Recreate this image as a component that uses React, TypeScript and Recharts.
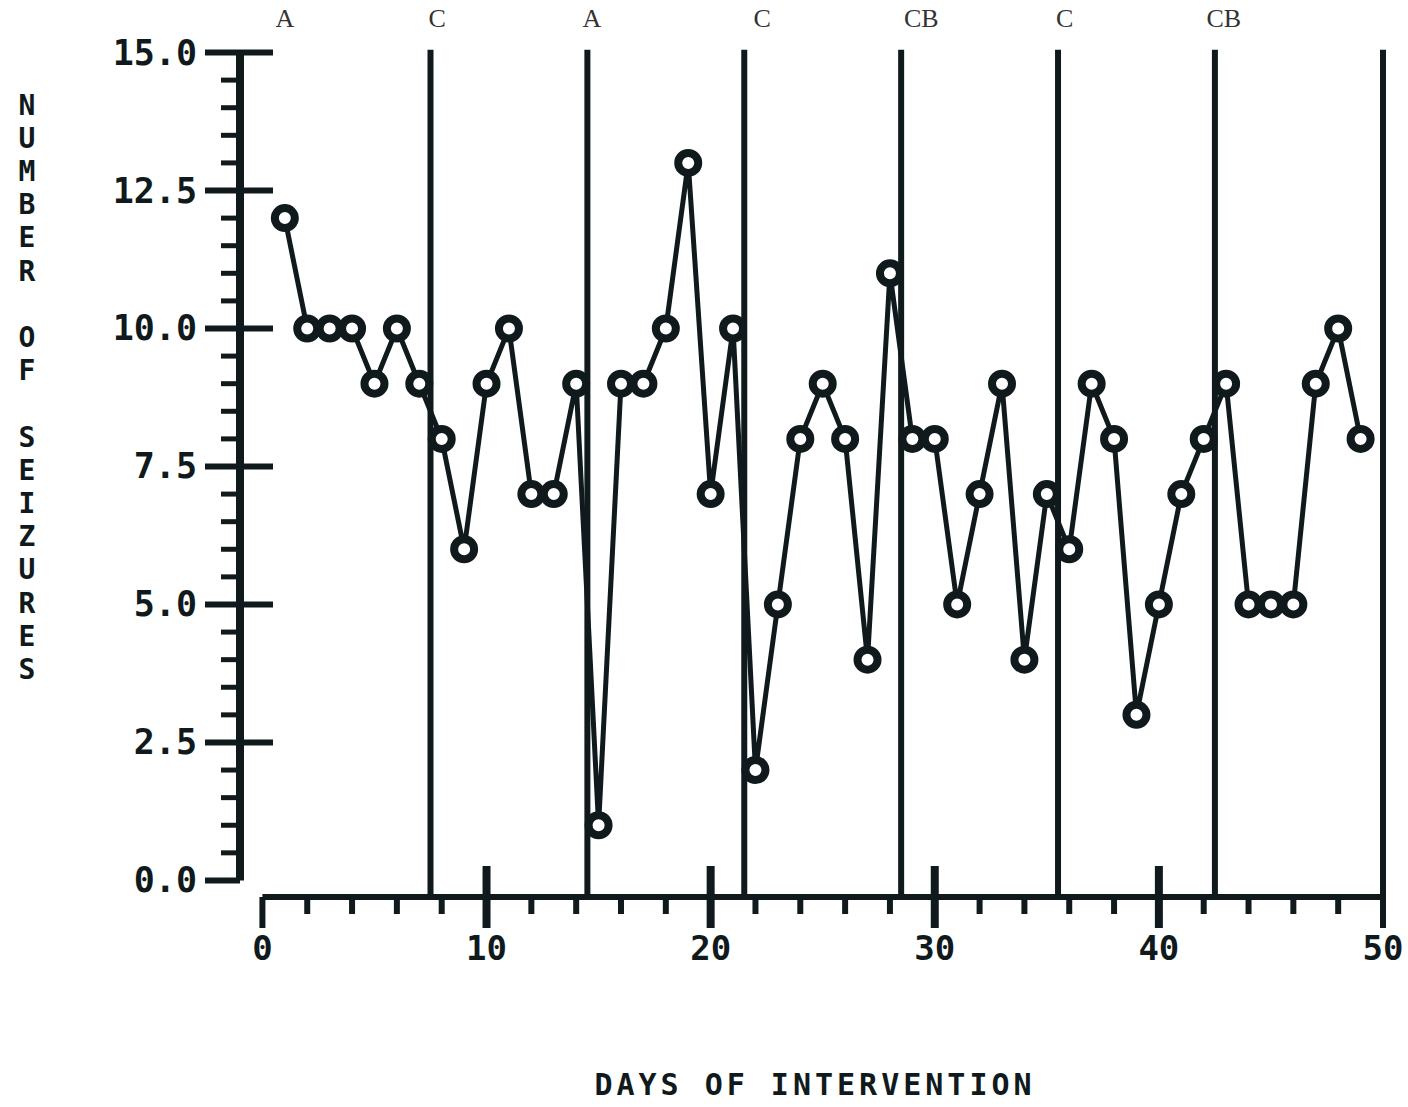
import { LineChart, Line, XAxis, YAxis, ReferenceLine, ReferenceDot } from 'recharts';

const INK = '#101a1c';
const MONO = '"DejaVu Sans Mono", monospace';

const days = [
  1, 2, 3, 4, 5, 6, 7, 8, 9, 10, 11, 12, 13, 14, 15, 16, 17, 18, 19, 20, 21, 22, 23, 24, 25,
  26, 27, 28, 29, 30, 31, 32, 33, 34, 35, 36, 37, 38, 39, 40, 41, 42, 43, 44, 45, 46, 47, 48, 49,
];
const seizures = [
  12, 10, 10, 10, 9, 10, 9, 8, 6, 9, 10, 7, 7, 9, 1, 9, 9, 10, 13, 7, 10, 2, 5, 8, 9,
  8, 4, 11, 8, 8, 5, 7, 9, 4, 7, 6, 9, 8, 3, 5, 7, 8, 9, 5, 5, 5, 9, 10, 8,
];

const yTicks = [
  0, 0.5, 1, 1.5, 2, 2.5, 3, 3.5, 4, 4.5, 5, 5.5, 6, 6.5, 7, 7.5, 8, 8.5, 9, 9.5, 10,
  10.5, 11, 11.5, 12, 12.5, 13, 13.5, 14, 14.5, 15,
];
const xTicks = [0, 2, 4, 6, 8, 10, 12, 14, 16, 18, 20, 22, 24, 26, 28, 30, 32, 34, 36, 38, 40, 42, 44, 46, 48, 50];

// phase boundaries and the letters printed above them
const phaseLines = [7.5, 14.5, 21.5, 28.5, 35.5, 42.5, 50];
const phaseNames = ['A', 'C', 'A', 'C', 'CB', 'C', 'CB'];
const phaseNameDays = [1, 7.8, 14.7, 22.3, 29.4, 35.8, 42.9];

const yTitle = 'NUMBER OF SEIZURES';
const xTitle = 'DAYS OF INTERVENTION';

const data = days.map((day, i) => ({ day, seizures: seizures[i] }));

const YTick = (props: any) => {
  const { x, y, payload } = props;
  const v = payload.value as number;
  if (v % 2.5 !== 0) {
    return <line x1={x - 19} x2={x} y1={y} y2={y} stroke={INK} strokeWidth={5} />;
  }
  return (
    <g>
      <line x1={x - 35} x2={v === 0 ? x : x + 33} y1={y} y2={y} stroke={INK} strokeWidth={6} />
      <text
        x={x - 43}
        y={y}
        textAnchor="end"
        dominantBaseline="central"
        fontFamily={MONO}
        fontWeight="bold"
        fontSize={35}
        fill={INK}
      >
        {v.toFixed(1)}
      </text>
    </g>
  );
};

const XTick = (props: any) => {
  const { x, y, payload } = props;
  const v = payload.value as number;
  if (v % 10 !== 0) {
    return <line x1={x} x2={x} y1={y} y2={y + 17} stroke={INK} strokeWidth={6} />;
  }
  const edge = v === 0 || v === 50;
  return (
    <g>
      <line x1={x} x2={x} y1={edge ? y : y - 31} y2={y + 31} stroke={INK} strokeWidth={edge ? 6 : 8} />
      <text
        x={x}
        y={y + 51}
        textAnchor="middle"
        dominantBaseline="central"
        fontFamily={MONO}
        fontWeight="bold"
        fontSize={34}
        fill={INK}
      >
        {v}
      </text>
    </g>
  );
};

// stacked upright letters down the left side
const YTitle = () => (
  <g>
    {yTitle.split('').map((ch, i) => (
      <text
        key={i}
        x={27}
        y={105 + i * 33.2}
        textAnchor="middle"
        dominantBaseline="central"
        fontFamily={MONO}
        fontWeight="bold"
        fontSize={28}
        fill={INK}
      >
        {ch}
      </text>
    ))}
  </g>
);

const XTitle = () => (
  <text
    x={815}
    y={1084}
    textAnchor="middle"
    dominantBaseline="central"
    fontFamily={MONO}
    fontWeight="bold"
    fontSize={30}
    letterSpacing={4}
    fill={INK}
  >
    {xTitle}
  </text>
);

export default function App() {
  return (
    <div style={{ position: 'absolute', left: 0, top: 0, background: '#fff' }}>
      <LineChart width={1408} height={1107} data={data} margin={{ top: 47, right: 25, bottom: 0, left: 0 }}>
        <XAxis
          dataKey="day"
          type="number"
          domain={[-1, 50]}
          ticks={xTicks}
          interval={0}
          axisLine={false}
          tickLine={false}
          tickSize={0}
          tickMargin={0}
          height={210}
          tick={<XTick />}
          label={{ content: () => <XTitle /> }}
        />
        <YAxis
          type="number"
          domain={[-0.3, 15.1]}
          ticks={yTicks}
          interval={0}
          axisLine={false}
          tickLine={false}
          tickSize={0}
          tickMargin={0}
          width={240}
          tick={<YTick />}
          label={{ content: () => <YTitle /> }}
        />
        <ReferenceLine
          segment={[{ x: -1, y: 0 }, { x: -1, y: 15 }]}
          stroke={INK}
          strokeWidth={8}
        />
        <ReferenceLine
          segment={[{ x: 0, y: -0.3 }, { x: 50, y: -0.3 }]}
          stroke={INK}
          strokeWidth={6}
        />
        {phaseLines.map((d) => (
          <ReferenceLine
            key={d}
            segment={[{ x: d, y: -0.3 }, { x: d, y: 15.05 }]}
            stroke={INK}
            strokeWidth={6}
          />
        ))}
        {phaseNames.map((name, i) => (
          <ReferenceDot
            key={i}
            x={phaseNameDays[i]}
            y={15.63}
            r={0}
            fill="none"
            stroke="none"
            ifOverflow="visible"
            label={{
              value: name,
              position: 'center',
              fontFamily: '"Liberation Serif", serif',
              fontSize: 26,
              fill: '#333',
            }}
          />
        ))}
        <Line
          dataKey="seizures"
          stroke={INK}
          strokeWidth={5}
          dot={{ r: 10, strokeWidth: 8, fill: '#fff', stroke: INK }}
          isAnimationActive={false}
        />
      </LineChart>
    </div>
  );
}
